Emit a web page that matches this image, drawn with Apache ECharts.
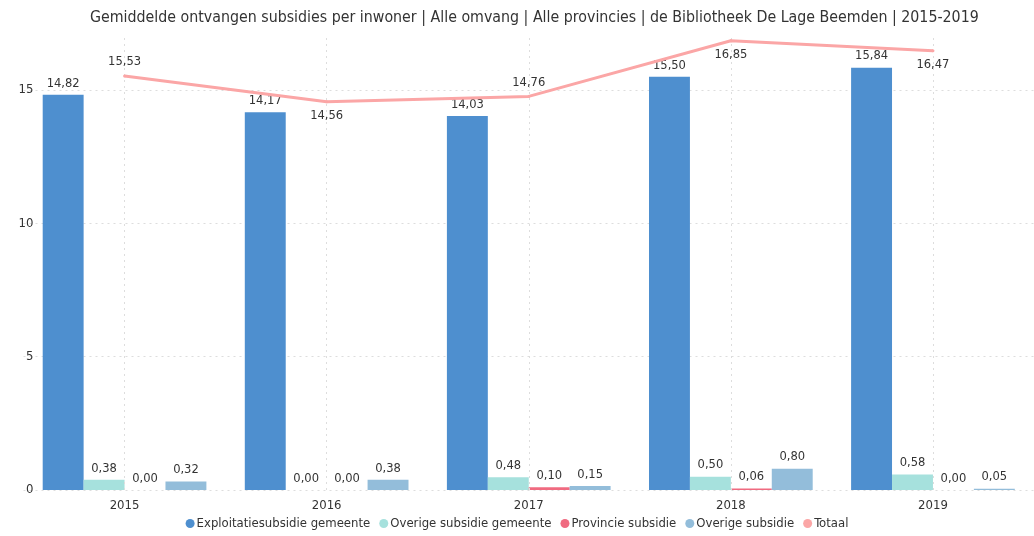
<!DOCTYPE html>
<html>
<head>
<meta charset="utf-8">
<script src="https://cdn.jsdelivr.net/npm/echarts@6/dist/echarts.min.js"></script>
<style>
  html, body { margin: 0; padding: 0; background: #fff; }
  #chart { width: 1034px; height: 536px; }
</style>
</head>
<body>
<div id="chart"></div>
<script>
  // jaren + waarden
  const years = ['2015', '2016', '2017', '2018', '2019'];
  const exploitatie = [14.82, 14.17, 14.03, 15.50, 15.84];
  const overigeGemeente = [0.38, 0.00, 0.48, 0.50, 0.58];
  const provincie = [0.00, 0.00, 0.10, 0.06, 0.00];
  const overige = [0.32, 0.38, 0.15, 0.80, 0.05];
  const totaal = [15.53, 14.56, 14.76, 16.85, 16.47];
  const totaalLabelPos = ['top', 'bottom', 'top', 'bottom', 'bottom'];
  const yTicks = [0, 5, 10, 15];

  const font = '"DejaVu Sans Condensed", "DejaVu Sans", sans-serif';
  const lineColor = '#fba6a6';
  const fmt = v => v.toFixed(2).replace('.', ',');

  const barLabel = {
    show: true,
    position: 'top',
    distance: 5,
    color: '#333',
    fontSize: 12.8,
    fontFamily: font,
    formatter: p => fmt(p.value)
  };

  function barSeries(name, data, color) {
    return {
      name: name,
      type: 'bar',
      data: data,
      barGap: '0%',
      barCategoryGap: '19%',
      itemStyle: { color: color },
      label: barLabel
    };
  }

  const chart = echarts.init(document.getElementById('chart'));
  chart.setOption({
    animation: false,
    textStyle: { fontFamily: font },
    title: {
      text: 'Gemiddelde ontvangen subsidies per inwoner | Alle omvang | Alle provincies | de Bibliotheek De Lage Beemden | 2015-2019',
      left: 85,
      top: 5,
      textStyle: { fontSize: 15.8, fontWeight: 'normal', color: '#333', fontFamily: font }
    },
    legend: {
      bottom: 1,
      left: 'center',
      icon: 'circle',
      itemWidth: 9,
      itemHeight: 9,
      itemGap: 9,
      textStyle: { fontSize: 13, color: '#333', fontFamily: font, padding: [0, 0, 0, -3] },
      data: ['Exploitatiesubsidie gemeente', 'Overige subsidie gemeente', 'Provincie subsidie', 'Overige subsidie', 'Totaal']
    },
    grid: { left: 23.5, right: -4.5, top: 36.7, bottom: 46, containLabel: false },
    xAxis: {
      type: 'category',
      data: years,
      axisLine: { show: false },
      axisTick: { show: false },
      axisLabel: { color: '#333', fontSize: 13, margin: 9, fontFamily: font }
    },
    yAxis: {
      type: 'value',
      min: 0,
      max: 17,
      interval: 5,
      axisLine: { show: false },
      axisTick: { show: false },
      axisLabel: {
        color: '#333', fontSize: 13, margin: -10, fontFamily: font,
        formatter: v => (yTicks.indexOf(v) >= 0 ? String(v) : '')
      },
      splitLine: { showMaxLine: false, lineStyle: { color: '#ddd', type: [2, 4], width: 1 } }
    },
    series: [
      barSeries('Exploitatiesubsidie gemeente', exploitatie, '#4e8fcf'),
      barSeries('Overige subsidie gemeente', overigeGemeente, '#a6e1dd'),
      barSeries('Provincie subsidie', provincie, '#f06a80'),
      barSeries('Overige subsidie', overige, '#93bdda'),
      {
        name: 'Totaal',
        type: 'line',
        data: totaal.map((v, i) => ({ value: v, label: { position: totaalLabelPos[i] } })),
        symbol: 'circle',
        symbolSize: 3,
        showSymbol: true,
        z: 5,
        lineStyle: { color: lineColor, width: 3 },
        itemStyle: { color: lineColor },
        label: {
          show: true,
          distance: 6,
          color: '#333',
          fontSize: 12.8,
          fontFamily: font,
          formatter: p => fmt(p.value)
        },
        // verticale stippellijnen op de jaren
        markLine: {
          silent: true,
          symbol: 'none',
          label: { show: false },
          lineStyle: { color: '#ddd', type: [2, 4], width: 1 },
          data: years.map(y => ({ xAxis: y }))
        }
      }
    ]
  });
</script>
</body>
</html>
